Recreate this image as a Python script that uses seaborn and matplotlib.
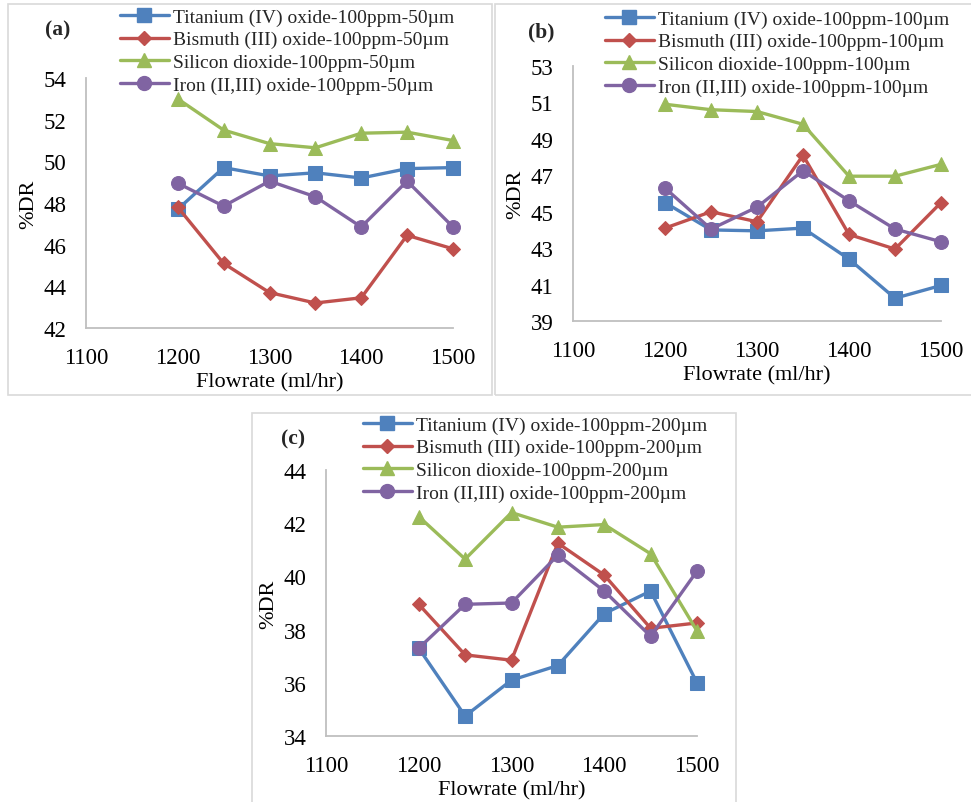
import matplotlib
matplotlib.use("Agg")
import matplotlib.pyplot as plt
import seaborn as sns
import pandas as pd
from matplotlib.patches import Rectangle
from matplotlib.lines import Line2D

sns.set_theme(style="white")
plt.rcParams['font.family'] = ['Liberation Serif', 'DejaVu Serif']

flowrate = [1200, 1250, 1300, 1350, 1400, 1450, 1500]
materials = ["Titanium (IV) oxide", "Bismuth (III) oxide", "Silicon dioxide", "Iron (II,III) oxide"]

# Panel (a) 50 µm
a_ti = [47.7, 49.7, 49.3, 49.45, 49.2, 49.65, 49.7]
a_bi = [47.8, 45.1, 43.7, 43.2, 43.45, 46.45, 45.8]
a_si = [53.0, 51.5, 50.85, 50.65, 51.35, 51.4, 51.0]
a_fe = [48.95, 47.85, 49.05, 48.3, 46.85, 49.05, 46.85]
# Panel (b) 100 µm
b_ti = [45.5, 44.0, 43.95, 44.1, 42.4, 40.25, 40.95]
b_bi = [44.1, 45.0, 44.45, 48.1, 43.75, 42.95, 45.5]
b_si = [50.9, 50.6, 50.5, 49.8, 46.95, 46.95, 47.6]
b_fe = [46.3, 44.05, 45.25, 47.25, 45.6, 44.05, 43.35]
# Panel (c) 200 µm
c_ti = [37.3, 34.75, 36.1, 36.65, 38.6, 39.45, 36.0]
c_bi = [38.95, 37.05, 36.85, 41.25, 40.05, 38.05, 38.25]
c_si = [42.25, 40.65, 42.4, 41.85, 41.95, 40.85, 37.95]
c_fe = [37.3, 38.95, 39.0, 40.8, 39.45, 37.75, 40.2]

colors = ["#4F81BD", "#C0504D", "#9BBB59", "#8064A2"]
markers = ["s", "D", "^", "o"]
msizes = [10, 7.5, 10.5, 10]

W, H = 971, 803
fig = plt.figure(figsize=(W / 100, H / 100), dpi=100)

def rect(l, t, r, b):
    return [l / W, 1 - b / H, (r - l) / W, (b - t) / H]

# panel borders
for (l, t, r, b) in [(8, 5, 492, 396), (495, 5, 980, 396), (252, 414, 736, 810)]:
    fig.patches.append(Rectangle((l / W, 1 - b / H), (r - l) / W, (b - t) / H,
                                 transform=fig.transFigure, fill=False,
                                 edgecolor="#D9D9D9", lw=1.2, zorder=0))

panels = [
    dict(series=[a_ti, a_bi, a_si, a_fe], size="50µm", ylim=(42, 54), yticks=range(42, 55, 2),
         ax=rect(86, 79, 453, 329), label="(a)", lab_xy=(58, 30), leg_xy=(120, 9)),
    dict(series=[b_ti, b_bi, b_si, b_fe], size="100µm", ylim=(39, 53), yticks=range(39, 54, 2),
         ax=rect(573, 67, 941, 322), label="(b)", lab_xy=(541, 32), leg_xy=(605, 11)),
    dict(series=[c_ti, c_bi, c_si, c_fe], size="200µm", ylim=(34, 44), yticks=range(34, 45, 2),
         ax=rect(326, 471, 697, 737), label="(c)", lab_xy=(293, 439), leg_xy=(363, 417)),
]

for p in panels:
    ax = fig.add_axes(p["ax"])
    names = [f"{m}-100ppm-{p['size']}" for m in materials]
    rows = []
    for name, vals in zip(names, p["series"]):
        for x, y in zip(flowrate, vals):
            rows.append({"Flowrate": x, "DR": y, "Series": name})
    df = pd.DataFrame(rows)
    for i, name in enumerate(names):
        sns.lineplot(data=df[df["Series"] == name], x="Flowrate", y="DR", ax=ax,
                     color=colors[i], marker=markers[i], markersize=msizes[i],
                     markeredgecolor=colors[i], linewidth=2.4, clip_on=False,
                     legend=False, zorder=3 + i)
    ax.set_xlim(1100, 1500)
    ax.set_ylim(*p["ylim"])
    ax.set_xticks(range(1100, 1501, 100))
    ax.set_yticks(list(p["yticks"]))
    for s in ["top", "right"]:
        ax.spines[s].set_visible(False)
    for s in ["left", "bottom"]:
        ax.spines[s].set_color("#BFBFBF")
        ax.spines[s].set_linewidth(1.3)
    ax.tick_params(axis="both", length=4, width=1.2, color="#BFBFBF",
                   labelsize=16.5, labelcolor="black")
    ax.tick_params(axis="y", direction="out", pad=10)
    ax.tick_params(axis="x", direction="in", pad=14)
    ax.set_xlabel("Flowrate (ml/hr)", fontsize=16, color="black", labelpad=3)
    ax.set_ylabel("%DR", fontsize=16, color="black", labelpad=4)
    ax.patch.set_alpha(0)

    handles = [Line2D([0], [0], color=colors[i], marker=markers[i], markersize=msizes[i],
                      lw=2.4) for i in range(4)]
    lx, ly = p["leg_xy"]
    fig.legend(handles, names, loc="upper left", bbox_to_anchor=(lx / W, 1 - ly / H),
               frameon=False, fontsize=14, handlelength=2.5, handletextpad=0.25,
               labelspacing=0.26, borderaxespad=0, borderpad=0)
    fx, fy = p["lab_xy"]
    fig.text(fx / W, 1 - fy / H, p["label"], fontsize=15.5, fontweight="bold",
             ha="center", va="center")

fig.savefig("out.png", dpi=100)
